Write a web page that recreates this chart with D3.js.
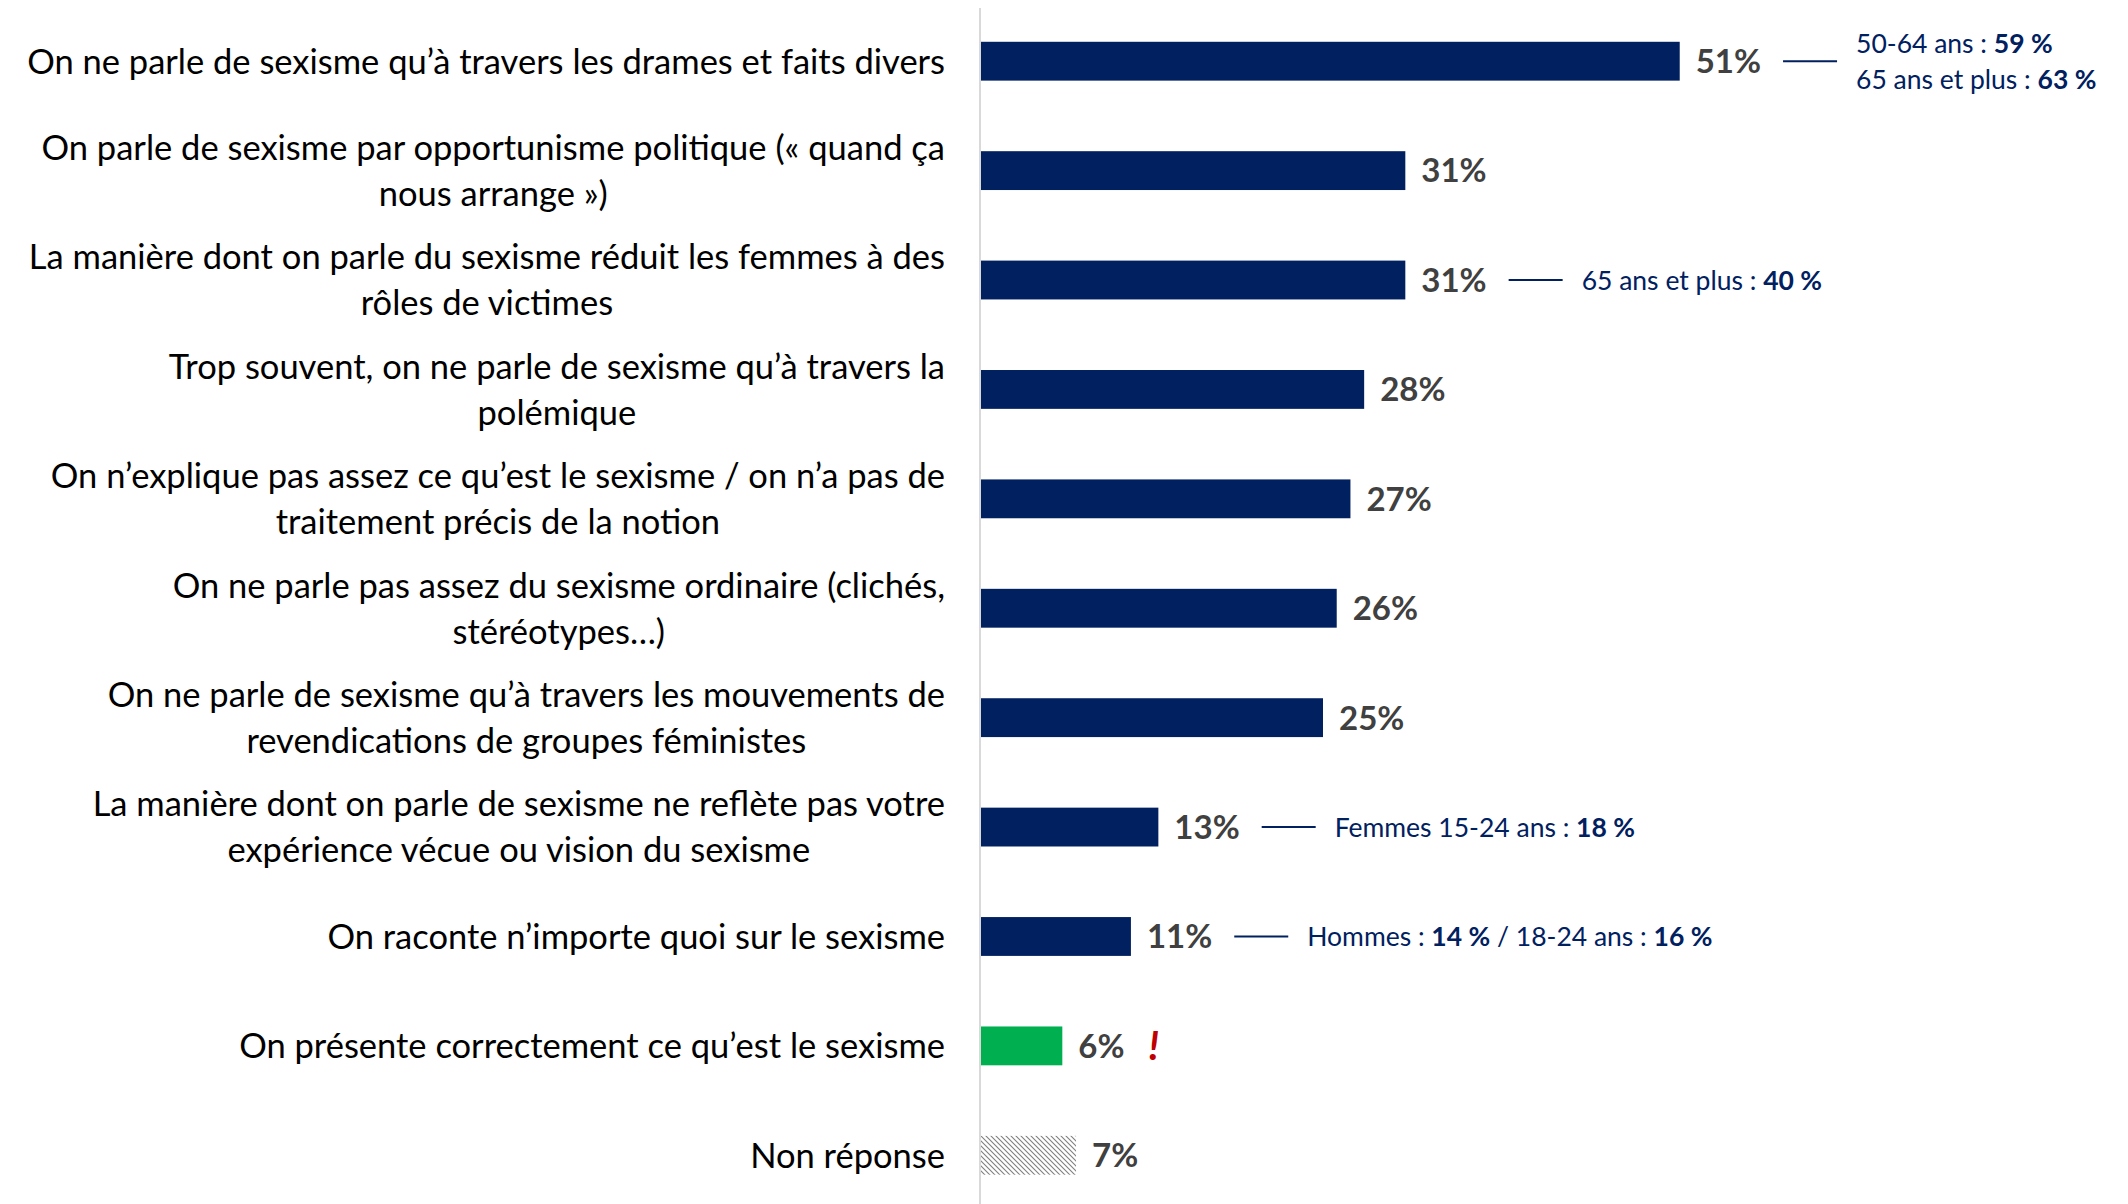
<!DOCTYPE html>
<html>
<head>
<meta charset="utf-8">
<script src="https://cdn.jsdelivr.net/npm/d3@7"></script>
<style>
  body { margin: 0; background: #fff; }
  svg { display: block; font-family: Lato, "Open Sans", sans-serif; }
</style>
</head>
<body>
<svg width="2128" height="1204"></svg>
<script>
// libellés des réponses (une entrée par ligne affichée)
const categories = [
  ["On ne parle de sexisme qu’à travers les drames et faits divers"],
  ["On parle de sexisme par opportunisme politique (« quand ça", "nous arrange »)"],
  ["La manière dont on parle du sexisme réduit les femmes à des", "rôles de victimes"],
  ["Trop souvent, on ne parle de sexisme qu’à travers la", "polémique"],
  ["On n’explique pas assez ce qu’est le sexisme / on n’a pas de", "traitement précis de la notion"],
  ["On ne parle pas assez du sexisme ordinaire (clichés,", "stéréotypes…)"],
  ["On ne parle de sexisme qu’à travers les mouvements de", "revendications de groupes féministes"],
  ["La manière dont on parle de sexisme ne reflète pas votre", "expérience vécue ou vision du sexisme"],
  ["On raconte n’importe quoi sur le sexisme"],
  ["On présente correctement ce qu’est le sexisme"],
  ["Non réponse"],
];

// pourcentages
const values = [51, 31, 31, 28, 27, 26, 25, 13, 11, 6, 7];

// type de barre : "neg" (bleu), "pos" (vert), "nr" (hachuré)
const kinds = ["neg", "neg", "neg", "neg", "neg", "neg", "neg", "neg", "neg", "pos", "nr"];

// sous-populations : [index, lignes de segments [texte, gras]]
const notes = [
  [0, [[["50-64 ans : ", false], ["59 %", true]], [["65 ans et plus : ", false], ["63 %", true]]]],
  [2, [[["65 ans et plus : ", false], ["40 %", true]]]],
  [7, [[["Femmes 15-24 ans : ", false], ["18 %", true]]]],
  [8, [[["Hommes : ", false], ["14 %", true], [" / 18-24 ans : ", false], ["16 %", true]]]],
];

const navy = "#002060";
const svg = d3.select("svg");

const x = d3.scaleLinear().domain([0, 100]).range([980, 2352]);
const y = d3.scaleBand()
  .domain(d3.range(values.length))
  .range([6.5, 1210])
  .paddingInner(0.645)
  .paddingOuter(0.3225);

// motif hachuré pour "Non réponse"
const pat = svg.append("defs").append("pattern")
  .attr("id", "hatch")
  .attr("patternUnits", "userSpaceOnUse")
  .attr("width", 5)
  .attr("height", 5);
pat.append("rect").attr("width", 5).attr("height", 5).attr("fill", "#fff");
pat.append("path")
  .attr("d", "M0,0 L5,5 M-1,4 L1,6 M4,-1 L6,1")
  .attr("stroke", "#7f7f7f")
  .attr("stroke-width", 1.1);

// axe vertical
svg.append("line")
  .attr("x1", x(0)).attr("x2", x(0))
  .attr("y1", 8).attr("y2", 1204)
  .attr("stroke", "#d9d9d9")
  .attr("stroke-width", 2);

const fillFor = (k) => (k === "pos" ? "#00b050" : k === "nr" ? "url(#hatch)" : navy);

svg.selectAll(".bar")
  .data(values)
  .enter()
  .append("rect")
  .attr("class", "bar")
  .attr("x", x(0) + 1)
  .attr("y", (d, i) => y(i))
  .attr("width", (d) => x(d) - x(0) - 1)
  .attr("height", y.bandwidth())
  .attr("fill", (d, i) => fillFor(kinds[i]));

// libellés de gauche : bloc aligné à droite, lignes centrées
const labelRight = 945;
const lineH = 46;
categories.forEach((lines, i) => {
  const cy = y(i) + y.bandwidth() / 2;
  const g = svg.append("g");
  const texts = lines.map((l, j) =>
    g.append("text")
      .attr("y", cy + (j - (lines.length - 1) / 2) * lineH)
      .attr("dy", "0.36em")
      .attr("text-anchor", "middle")
      .attr("font-size", 34.5)
      .attr("fill", "#000")
      .text(l)
  );
  const w = d3.max(texts, (t) => t.node().getComputedTextLength());
  texts.forEach((t) => t.attr("x", labelRight - w / 2));
});

// valeurs
const valueEnds = [];
values.forEach((v, i) => {
  const cy = y(i) + y.bandwidth() / 2;
  const t = svg.append("text")
    .attr("x", x(v) + 16)
    .attr("y", cy)
    .attr("dy", "0.36em")
    .attr("font-size", 33)
    .attr("font-weight", "bold")
    .attr("fill", "#404040")
    .text(v + "%");
  valueEnds[i] = x(v) + 16 + t.node().getComputedTextLength();
});

// point d'exclamation rouge sur la réponse positive
kinds.forEach((k, i) => {
  if (k !== "pos") return;
  svg.append("text")
    .attr("x", valueEnds[i] + 24)
    .attr("y", y(i) + y.bandwidth() / 2)
    .attr("dy", "0.36em")
    .attr("font-size", 40)
    .attr("font-weight", "bold")
    .attr("font-style", "italic")
    .attr("fill", "#c00000")
    .text("!");
});

// annotations
notes.forEach(([i, lines]) => {
  const cy = y(i) + y.bandwidth() / 2;
  const x0 = valueEnds[i] + 22;
  svg.append("line")
    .attr("x1", x0).attr("x2", x0 + 54)
    .attr("y1", cy).attr("y2", cy)
    .attr("stroke", navy)
    .attr("stroke-width", 2);
  lines.forEach((segs, j) => {
    const t = svg.append("text")
      .attr("x", x0 + 54 + 19)
      .attr("y", cy + (j - (lines.length - 1) / 2) * 36)
      .attr("dy", "0.36em")
      .attr("font-size", 26.5)
      .attr("fill", navy);
    segs.forEach(([s, b]) => {
      t.append("tspan")
        .attr("font-weight", b ? "bold" : "normal")
        .text(s);
    });
  });
});
</script>
</body>
</html>
